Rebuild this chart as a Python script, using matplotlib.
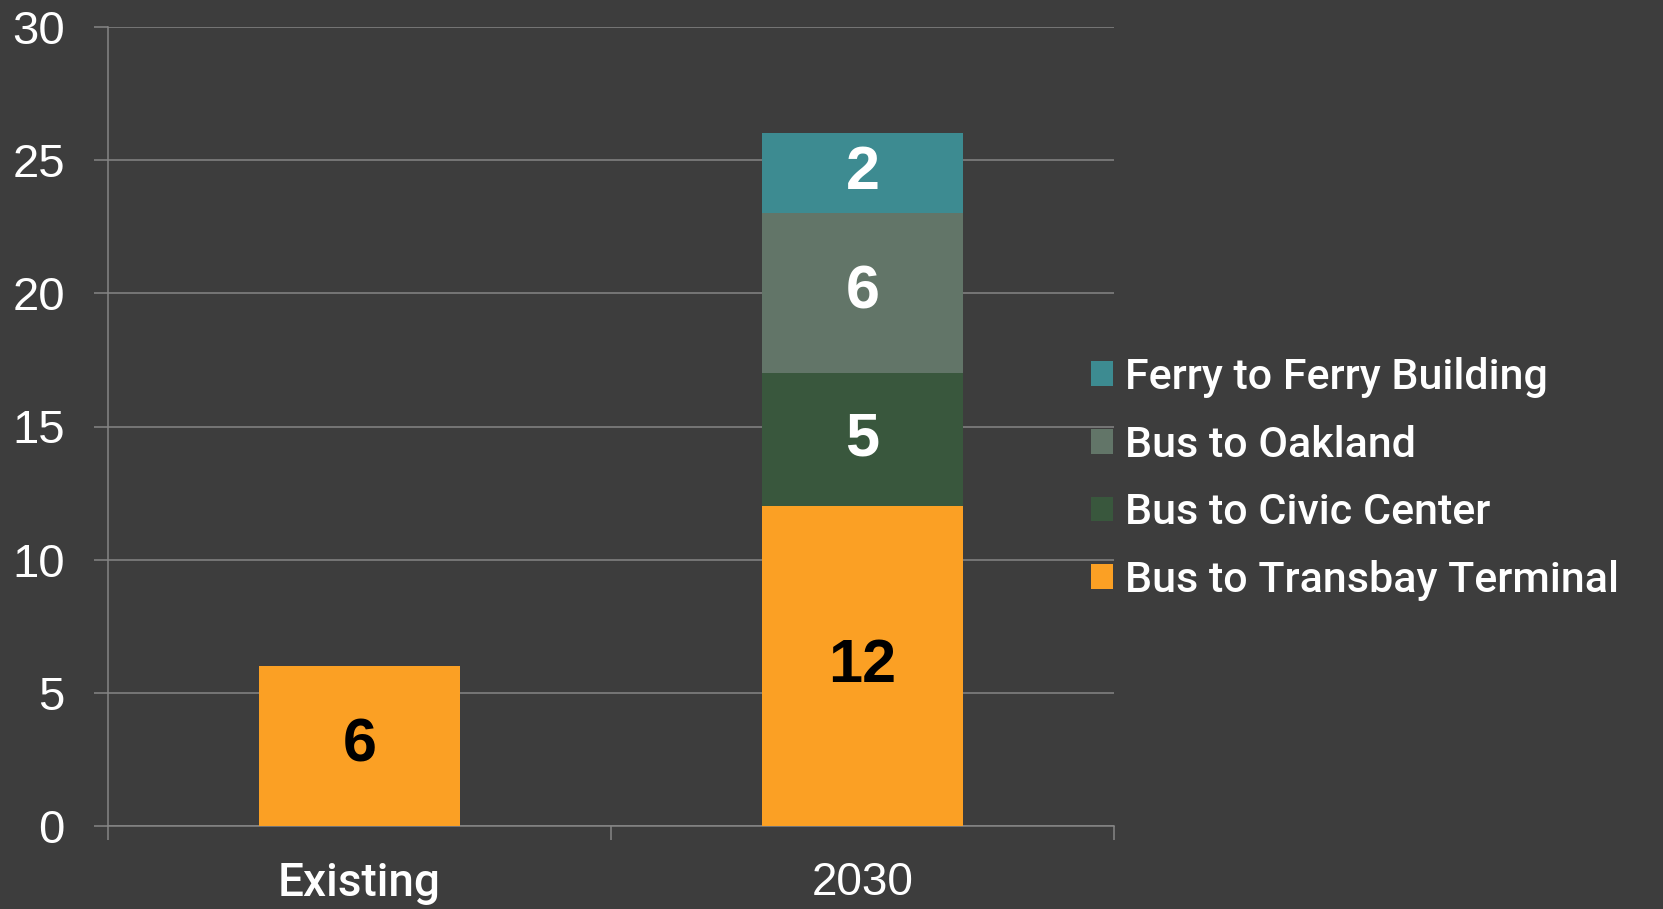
import matplotlib
matplotlib.use("Agg")
import matplotlib.pyplot as plt
from matplotlib.patches import Patch
import numpy as np

categories = ["Existing", "2030"]
series_names = ["Bus to Transbay Terminal", "Bus to Civic Center", "Bus to Oakland", "Ferry to Ferry Building"]
transbay = [6, 12]
civic = [0, 5]
oakland = [0, 6]
ferry = [0, 3]
# value labels as printed on the chart
transbay_labels = ["6", "12"]
civic_labels = ["", "5"]
oakland_labels = ["", "6"]
ferry_labels = ["", "2"]
yticks = [0, 5, 10, 15, 20, 25, 30]

colors = ["#FBA024", "#39573D", "#627568", "#3D8B91"]
label_colors = ["black", "white", "white", "white"]
bg = "#3D3D3D"
gridc = "#858585"

fig = plt.figure(figsize=(16.63, 9.09), dpi=100, facecolor=bg)
ax = fig.add_axes([108/1663, 1-826.3/909, (1114-108)/1663, (826.3-26.7)/909])
ax.set_facecolor(bg)

x = np.arange(len(categories))
bottom = np.zeros(len(categories))
for vals, labs, c, lc in zip([transbay, civic, oakland, ferry],
                             [transbay_labels, civic_labels, oakland_labels, ferry_labels],
                             colors, label_colors):
    v = np.array(vals, dtype=float)
    ax.bar(x, v, width=0.4, bottom=bottom, color=c, zorder=3)
    for xi, vi, bi, lab in zip(x, v, bottom, labs):
        if vi > 0 and lab:
            ax.text(xi, bi + vi/2, lab, ha="center", va="center",
                    fontsize=44, color=lc, family="Liberation Sans", fontweight="bold", zorder=4)
    bottom += v

ax.set_xlim(-0.5, 1.5)
ax.set_ylim(0, 30)
ax.set_yticks(yticks)
ax.set_yticklabels([str(t) for t in yticks])
ax.yaxis.grid(True, color=gridc, linewidth=1.1, zorder=1)
ax.set_axisbelow(True)
for s in ["top", "right"]:
    ax.spines[s].set_visible(False)
for s in ["left", "bottom"]:
    ax.spines[s].set_color(gridc)
    ax.spines[s].set_linewidth(1.1)

ax.tick_params(axis="y", length=10, width=1.1, color=gridc, pad=21, labelsize=34, labelcolor="white")
for t in ax.get_yticklabels():
    t.set_family("Liberation Sans")

ax.set_xticks(x)
ax.set_xticklabels(categories)
ax.set_xticks([-0.5, 0.5, 1.5], minor=True)
ax.tick_params(axis="x", which="major", length=0, pad=25, labelsize=33, labelcolor="white")
ax.tick_params(axis="x", which="minor", length=10, width=1.1, color=gridc)
xl = ax.get_xticklabels()
xl[0].set_family("Roboto"); xl[0].set_fontweight("medium")
xl[1].set_family("Liberation Sans")

handles = [Patch(facecolor=c, edgecolor="none") for c in colors][::-1]
labels = series_names[::-1]
leg = fig.legend(handles, labels, loc="center left", bbox_to_anchor=(1091/1663, 1-479/909),
                 frameon=False, handlelength=0.5, handleheight=0.5,
                 handletextpad=0.3, labelspacing=0.62, borderaxespad=0, borderpad=0,
                 prop={"family": "Roboto", "weight": "medium", "size": 31})
for t in leg.get_texts():
    t.set_color("white")

fig.savefig("out.png", dpi=100, facecolor=bg)
